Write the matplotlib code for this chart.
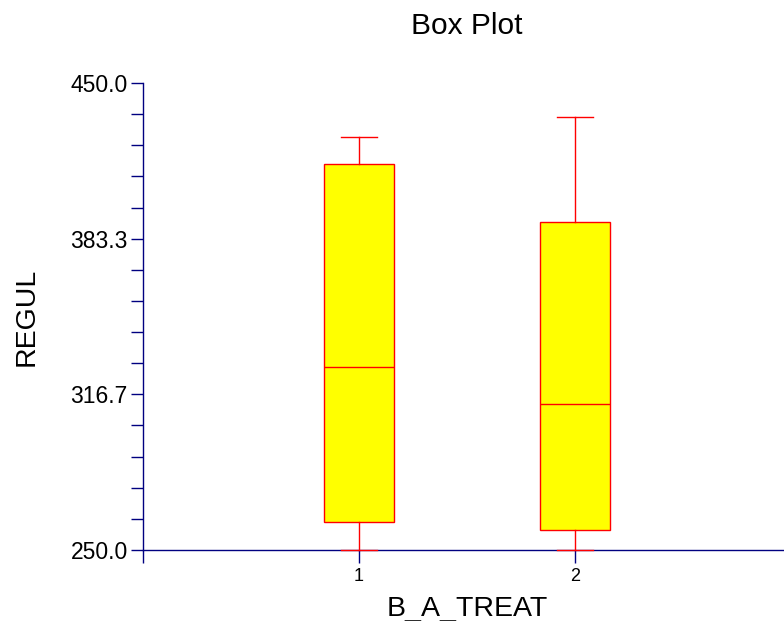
import matplotlib
matplotlib.use("Agg")
import matplotlib.pyplot as plt
from matplotlib.ticker import FixedLocator

plt.rcParams['font.family'] = ['Liberation Sans', 'DejaVu Sans']

# Five-number summaries of REGUL for each treatment group
groups = ['1', '2']
whisker_low = [250.0, 250.0]
q1 = [261.9, 258.4]
median = [328.2, 312.7]
q3 = [415.2, 390.6]
whisker_high = [427.0, 435.3]

y_ticks = [250.0, 316.7, 383.3, 450.0]
y_tick_labels = ['250.0', '316.7', '383.3', '450.0']
y_min, y_max = 250.0, 450.0
minor_per_major = 5

axis_color = '#000080'
box_edge = '#FF0000'
box_fill = '#FFFF00'

fig = plt.figure(figsize=(7.84, 6.21), dpi=100)
ax = fig.add_axes([143 / 784, 71 / 621, 648 / 784, 467 / 621])

stats = []
for i, g in enumerate(groups):
    stats.append(dict(label=g, whislo=whisker_low[i], q1=q1[i], med=median[i],
                      q3=q3[i], whishi=whisker_high[i], fliers=[]))

positions = list(range(1, len(groups) + 1))
bp = ax.bxp(stats, positions=positions, widths=0.324, capwidths=0.167,
            patch_artist=True, showfliers=False,
            boxprops=dict(facecolor=box_fill, edgecolor=box_edge, linewidth=1.0),
            medianprops=dict(color=box_edge, linewidth=1.0),
            whiskerprops=dict(color=box_edge, linewidth=1.0),
            capprops=dict(color=box_edge, linewidth=1.0),
            manage_ticks=False, zorder=3)
for artist_list in bp.values():
    for a in artist_list:
        a.set_clip_on(False)
for c in bp['caps']:
    c.set_zorder(4)

ax.set_xlim(0, 3)
ax.set_ylim(y_min, y_max)

ax.set_xticks([0] + positions)
ax.set_xticklabels([''] + groups, fontsize=13)
ax.yaxis.set_major_locator(FixedLocator(y_ticks))
ax.set_yticklabels(y_tick_labels, fontsize=16.5)
n_minor = (len(y_ticks) - 1) * minor_per_major
step = (y_max - y_min) / n_minor
minor_locs = [y_min + k * step for k in range(n_minor + 1) if k % minor_per_major]
ax.yaxis.set_minor_locator(FixedLocator(minor_locs))

for side in ('top', 'right'):
    ax.spines[side].set_visible(False)
for side in ('left', 'bottom'):
    ax.spines[side].set_color(axis_color)
    ax.spines[side].set_linewidth(1.0)
    ax.spines[side].set_zorder(2)

ax.tick_params(axis='y', which='major', length=9, width=1.0, color=axis_color, pad=2)
ax.tick_params(axis='y', which='minor', length=9, width=1.0, color=axis_color)
ax.tick_params(axis='x', which='major', length=9, width=1.0, color=axis_color, pad=4)

ax.set_xlabel('B_A_TREAT', fontsize=20.5, labelpad=8)
ax.set_ylabel('REGUL', fontsize=20.5, labelpad=22)
fig.text(467 / 784, 1 - 26 / 621, 'Box Plot', fontsize=21.5, ha='center', va='center')

fig.savefig('out.png', dpi=100)
